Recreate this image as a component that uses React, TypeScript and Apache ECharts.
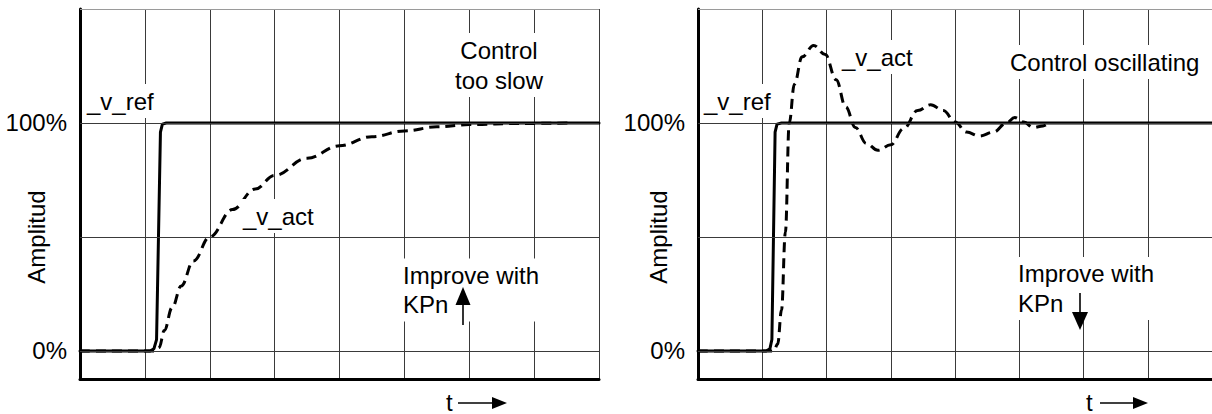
import React, { useEffect, useRef } from "react";
import * as echarts from "echarts";

// ---- data ----
const tMin = 0;
const tMax = 8;
const tStep = 1;
const yMin = -12.3;
const yMax = 150;
const yGridValues = [0, 50, 100, 150];
const yLabelValues = [0, 100];

// left panel: control too slow
const leftRef: [number, number][] = [
  [0, 0], [1.08, 0], [1.14, 1], [1.18, 5], [1.24, 96], [1.27, 99.5], [1.33, 100], [8, 100],
];
const leftAct: [number, number][] = [
  [0, 0], [1.16, 0], [1.22, 1.5], [1.3, 9], [1.42, 19], [1.56, 28.5], [1.75, 39.5],
  [2.0, 50], [2.35, 62], [2.7, 71], [3.0, 77], [3.5, 84.5], [4.0, 90], [4.5, 94],
  [5.0, 96.5], [5.5, 98.3], [6.0, 99.3], [6.8, 99.8], [7.57, 100],
];

// right panel: control oscillating
const rightRef: [number, number][] = [
  [0, 0], [1.06, 0], [1.12, 1], [1.15, 5], [1.2, 96], [1.23, 99.5], [1.3, 100], [8, 100],
];
const rightAct: [number, number][] = [
  [0, 0], [1.18, 0], [1.24, 3], [1.3, 18], [1.36, 52], [1.42, 100], [1.5, 117],
  [1.62, 129], [1.8, 134], [1.98, 130], [2.15, 119], [2.3, 107], [2.45, 98],
  [2.62, 91], [2.8, 88], [3.0, 90.4], [3.2, 97.5], [3.42, 105.5], [3.62, 108],
  [3.82, 105.5], [4.0, 100.4], [4.18, 96], [4.38, 94.3], [4.6, 96], [4.8, 100],
  [4.93, 102.4], [5.07, 100.4], [5.22, 98], [5.37, 98.7], [5.46, 100],
];

const FONT = "24px 'Liberation Sans', Arial, Helvetica, sans-serif";

function buildOption() {
  const grids = [
    { left: 80, top: 9, width: 519, height: 370 },
    { left: 698, top: 9, width: 520, height: 370 },
  ];
  const xAxes = grids.map((_, i) => ({
    type: "value",
    gridIndex: i,
    min: tMin,
    max: tMax,
    interval: tStep,
    axisLine: { show: true, onZero: false, lineStyle: { color: "#000", width: 3 } },
    axisTick: { show: false },
    axisLabel: { show: false },
    splitLine: { show: true, lineStyle: { color: "#3a3a3a", width: 1 } },
  }));
  const yAxes = grids.map((_, i) => ({
    type: "value",
    gridIndex: i,
    min: yMin,
    max: yMax,
    axisLine: { show: true, onZero: false, lineStyle: { color: "#000", width: 3 } },
    axisTick: { show: false },
    splitLine: { show: false },
    axisLabel: {
      show: true,
      customValues: yLabelValues,
      formatter: (v: number) => `${v}%`,
      margin: 13,
      color: "#000",
      fontSize: 24,
      fontFamily: "'Liberation Sans', Arial, Helvetica, sans-serif",
    },
  }));

  const gridSeries = grids.map((_, i) => ({
    type: "line",
    xAxisIndex: i,
    yAxisIndex: i,
    data: [],
    z: 1,
    silent: true,
    markLine: {
      silent: true,
      symbol: ["none", "none"],
      label: { show: false },
      emphasis: { disabled: true },
      lineStyle: { type: "solid", width: 1, color: "#3a3a3a" },
      data: yGridValues.map((v) => ({
        yAxis: v,
        lineStyle: { type: "solid", width: 1, color: v === yMax ? "#9a9a9a" : "#3a3a3a" },
      })),
    },
  }));

  const curve = (data: [number, number][], i: number, dashed: boolean) => ({
    type: "line",
    xAxisIndex: i,
    yAxisIndex: i,
    data,
    z: 3,
    symbol: "none",
    showSymbol: false,
    smooth: dashed ? 0.4 : false,
    smoothMonotone: "x",
    lineStyle: dashed
      ? { color: "#000", width: 3, type: [10, 6] }
      : { color: "#000", width: 3, cap: "round", join: "round" },
    emphasis: { disabled: true },
    silent: true,
  });

  const txt = (text: string, x: number, y: number, align: string, lineHeight = 30, rotation = 0) => ({
    type: "text",
    x,
    y,
    rotation,
    z: 100,
    silent: true,
    style: {
      text,
      font: FONT,
      fill: "#000",
      textAlign: align,
      textVerticalAlign: "middle",
      lineHeight,
      backgroundColor: "#fff",
      padding: [2, 3],
    },
  });

  const arrowLine = (x1: number, y1: number, x2: number, y2: number) => ({
    type: "line",
    z: 101,
    silent: true,
    shape: { x1, y1, x2, y2 },
    style: { stroke: "#000", lineWidth: 1.6 },
  });
  const head = (pts: number[][]) => ({
    type: "polygon",
    z: 101,
    silent: true,
    shape: { points: pts },
    style: { fill: "#000" },
  });

  const graphic = [
    // left panel
    txt("Amplitud", 36, 237, "center", 30, Math.PI / 2),
    txt("_v_ref", 84, 101, "left"),
    txt("Control\ntoo slow", 499, 65, "center"),
    txt("_v_act", 240, 216, "left"),
    txt("Improve with\nKPn", 400, 290, "left", 29.5),
    arrowLine(463, 325, 463, 300),
    head([[463, 287], [455.5, 305], [470.5, 305]]),
    txt("t", 443, 402, "left"),
    arrowLine(458, 403, 494, 403),
    head([[507, 403], [492, 397], [492, 409]]),
    // right panel
    txt("Amplitud", 658, 237, "center", 30, Math.PI / 2),
    txt("_v_ref", 701, 101, "left"),
    txt("_v_act", 839, 57, "left"),
    txt("Control oscillating", 1007, 62, "left"),
    txt("Improve with\nKPn", 1015, 288.5, "left", 29.5),
    arrowLine(1080, 293, 1080, 315),
    head([[1080, 330], [1072, 312], [1088, 312]]),
    txt("t", 1083, 402, "left"),
    arrowLine(1100, 403, 1135, 403),
    head([[1148, 403], [1133, 397], [1133, 409]]),
  ];

  return {
    animation: false,
    backgroundColor: "#fff",
    grid: grids,
    xAxis: xAxes,
    yAxis: yAxes,
    series: [
      ...gridSeries,
      curve(leftRef, 0, false),
      curve(leftAct, 0, true),
      curve(rightRef, 1, false),
      curve(rightAct, 1, true),
    ],
    graphic,
  };
}

export default function App() {
  const ref = useRef<HTMLDivElement>(null);
  useEffect(() => {
    if (!ref.current) return;
    const chart = echarts.init(ref.current, undefined, { renderer: "svg" });
    chart.setOption(buildOption() as any);
    return () => chart.dispose();
  }, []);
  return (
    <div
      ref={ref}
      style={{ position: "fixed", left: 0, top: 0, width: 1212, height: 414, background: "#fff" }}
    />
  );
}
